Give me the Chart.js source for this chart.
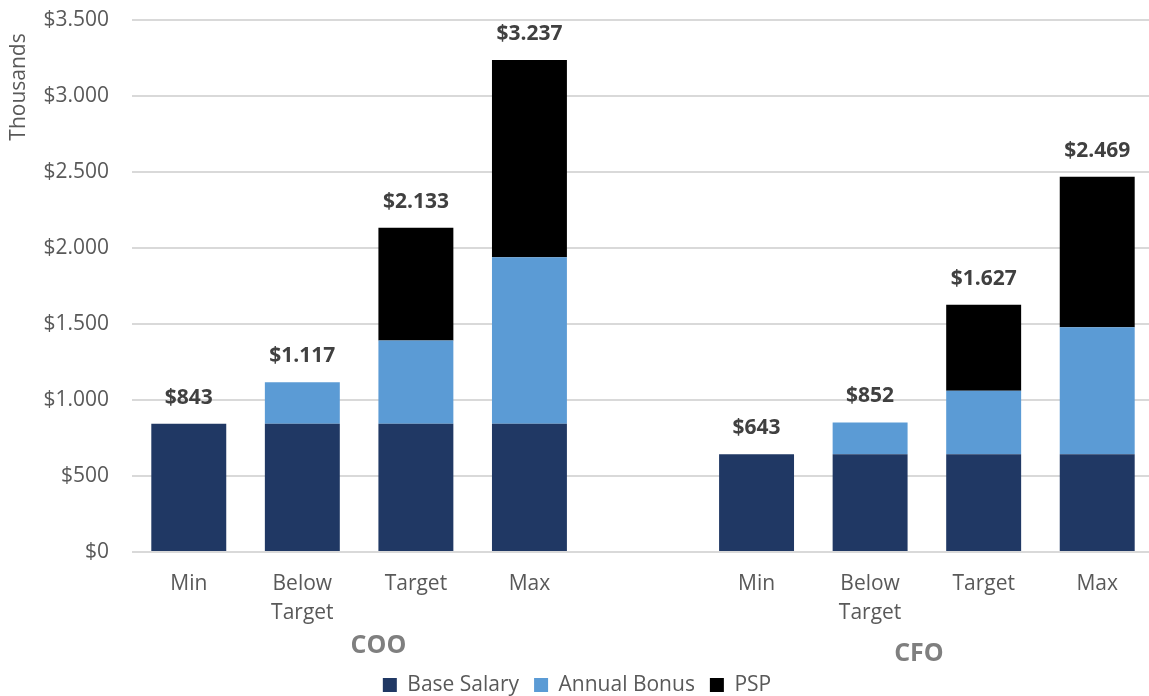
<!DOCTYPE html>
<html>
<head>
<meta charset="utf-8">
<script src="https://cdn.jsdelivr.net/npm/chart.js@4.4.1/dist/chart.umd.min.js"></script>
<style>
  html, body { margin: 0; padding: 0; background: #fff; overflow: hidden; }
  #wrap { width: 1154px; height: 696px; }
</style>
</head>
<body>
<div id="wrap"><canvas id="myChart"></canvas></div>
<script>
// datos (miles)
const categories = ['Min', ['Below', 'Target'], 'Target', 'Max', '', 'Min', ['Below', 'Target'], 'Target', 'Max'];
const baseSalary = [843, 843, 843, 843, null, 643, 643, 643, 643];
const annualBonus = [0, 274, 548, 1096, null, 0, 209, 418, 836];
const psp = [0, 0, 742, 1298, null, 0, 0, 566, 990];
const yTicks = [0, 500, 1000, 1500, 2000, 2500, 3000, 3500];
const groups = [{ text: 'COO', at: 1.67, y: 646 }, { text: 'CFO', at: 6.43, y: 654 }];

const FONT = "'Open Sans', 'Noto Sans', sans-serif";

function money(v) {
  return '$' + String(v).replace(/\B(?=(\d{3})+(?!\d))/g, '.');
}

// totales encima de cada barra + etiquetas COO / CFO + titulo del eje
const extras = {
  id: 'extras',
  afterDatasetsDraw(chart) {
    const ctx = chart.ctx;
    const top = chart.getDatasetMeta(2);
    ctx.save();
    ctx.font = 'bold 21px ' + FONT;
    ctx.fillStyle = '#404040';
    ctx.textAlign = 'center';
    ctx.textBaseline = 'middle';
    categories.forEach((c, i) => {
      if (baseSalary[i] == null) return;
      const total = baseSalary[i] + annualBonus[i] + psp[i];
      const bar = top.data[i];
      ctx.fillText(money(total), bar.x, bar.y - 26);
    });

    const x = chart.scales.x;
    ctx.font = 'bold 25px ' + FONT;
    ctx.fillStyle = '#7f7f7f';
    groups.forEach(g => {
      ctx.fillText(g.text, x.getPixelForValue(g.at), g.y);
    });

    ctx.translate(19, 87);
    ctx.rotate(-Math.PI / 2);
    ctx.font = '21px ' + FONT;
    ctx.fillStyle = '#595959';
    ctx.fillText('Thousands', 0, 0);
    ctx.restore();
  }
};

const ctx = document.getElementById('myChart');

new Chart(ctx, {
  type: 'bar',
  data: {
    labels: categories,
    datasets: [
      { label: 'Base Salary', data: baseSalary, backgroundColor: '#203864' },
      { label: 'Annual Bonus', data: annualBonus, backgroundColor: '#5b9bd5' },
      { label: 'PSP', data: psp, backgroundColor: '#000000' }
    ]
  },
  options: {
    responsive: true,
    maintainAspectRatio: false,
    animation: false,
    layout: { padding: { top: 20, left: 0, right: 0, bottom: -9.5 } },
    datasets: {
      bar: { barPercentage: 0.66, categoryPercentage: 1, borderWidth: 0 }
    },
    scales: {
      x: {
        stacked: true,
        grid: { display: false },
        border: { display: false },
        ticks: {
          color: '#595959',
          font: { family: FONT, size: 21, lineHeight: 1.38 },
          padding: 10,
          maxRotation: 0,
          autoSkip: false
        },
        afterFit(scale) { scale.height = 107.5; }
      },
      y: {
        stacked: true,
        min: 0,
        max: 3500,
        afterBuildTicks(scale) { scale.ticks = yTicks.map(v => ({ value: v })); },
        grid: { color: '#d9d9d9', lineWidth: 2, drawTicks: false },
        border: { display: false },
        ticks: {
          color: '#595959',
          font: { family: FONT, size: 21 },
          padding: 23,
          callback: v => money(v)
        },
        afterFit(scale) {
          scale.width = 132;
          scale.paddingTop = 0;
          scale.paddingBottom = 0;
        }
      }
    },
    plugins: {
      legend: {
        position: 'bottom',
        labels: {
          color: '#595959',
          font: { family: FONT, size: 21 },
          boxWidth: 14,
          boxHeight: 14,
          padding: 15
        }
      },
      tooltip: { enabled: false }
    }
  },
  plugins: [extras]
});
</script>
</body>
</html>
